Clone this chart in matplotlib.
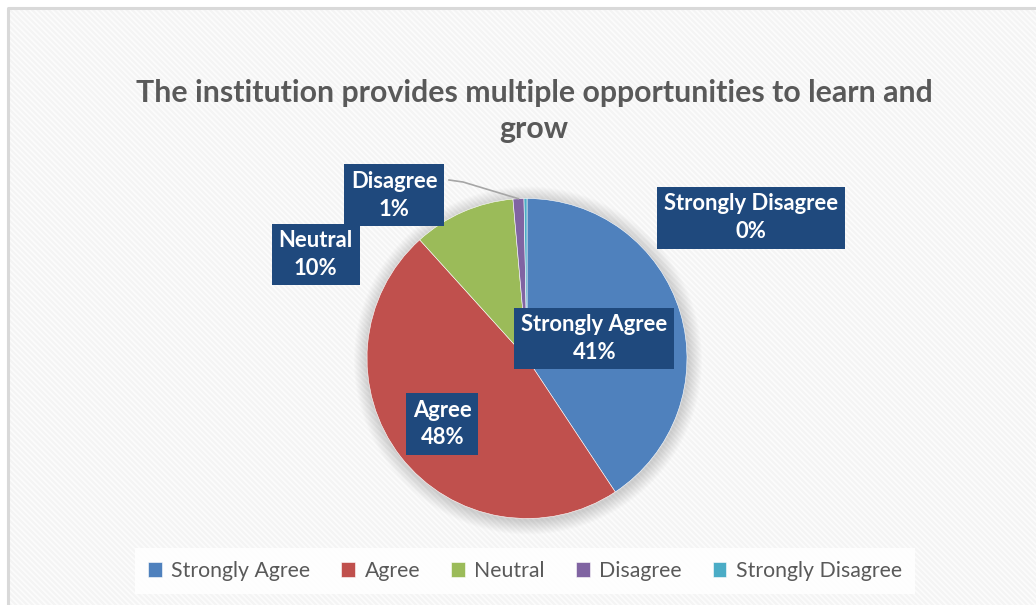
import matplotlib
matplotlib.use("Agg")
import matplotlib.pyplot as plt
import numpy as np
from matplotlib.patches import Rectangle, Circle

# Данные
categories = ["Strongly Agree", "Agree", "Neutral", "Disagree", "Strongly Disagree"]
values = [40.7, 47.6, 10.3, 1.1, 0.3]
colors = ["#4F81BD", "#C0504D", "#9BBB59", "#8064A2", "#4BACC6"]
title = "The institution provides multiple opportunities to learn and\ngrow"

# положения подписей относительно центра круга (в радиусах)
label_pos = [(0.42, 0.125), (-0.53, -0.41), (-1.32, 0.65), (-0.83, 1.02), (1.40, 0.88)]

plt.rcParams['font.family'] = ['Lato', 'DejaVu Sans']
plt.rcParams['hatch.linewidth'] = 1.6

W, H = 1036, 605
fig = plt.figure(figsize=(W / 100, H / 100), dpi=100)
ax = fig.add_axes([0, 0, 1, 1])
ax.set_xlim(0, W)
ax.set_ylim(0, H)
ax.axis('off')

# фон с текстурой и рамкой
ax.add_patch(Rectangle((8, -5), W, H - 8 + 5, facecolor='#fcfcfc', edgecolor='#f4f4f4',
                       hatch='\\\\\\\\\\\\', linewidth=0, zorder=0))
ax.plot([8, 8, W], [0, H - 8, H - 8], color='#d9d9d9', lw=2.2, zorder=1)

cx, cy, r = 527, H - 358.5, 160

# мягкая тень вокруг круга
for k in range(14, 0, -1):
    ax.add_patch(Circle((cx + 1, cy - 2), r + k, facecolor='#000000', alpha=0.011,
                        linewidth=0, zorder=2))

wedges, _ = ax.pie(values, colors=colors, startangle=90, counterclock=False,
                   center=(cx, cy), radius=r, frame=True,
                   wedgeprops=dict(edgecolor='white', linewidth=0.4, zorder=3))
ax.set_xlim(0, W)
ax.set_ylim(0, H)
ax.set_aspect('equal')
ax.axis('off')

total = sum(values)
for i, (cat, val) in enumerate(zip(categories, values)):
    lx, ly = label_pos[i]
    ax.text(cx + lx * r, cy + ly * r, f"{cat}\n{round(val / total * 100):.0f}%",
            ha='center', va='center', color='white', fontsize=15.8, fontweight='bold',
            linespacing=1.4, zorder=6,
            bbox=dict(boxstyle='square,pad=0.3', facecolor='#1F497D', edgecolor='none'))

# линия-выноска для Disagree
cum = np.cumsum(values) / total
mid = (cum[3] + cum[2]) / 2
ang = np.deg2rad(90 - mid * 360)
ex, ey = cx + r * np.cos(ang), cy + r * np.sin(ang)
ax.plot([449, 463, ex], [H - 180, H - 182, ey], color='#a6a6a6', lw=1.2, zorder=5)

fig.text(534 / W, 1 - 111 / H, title, ha='center', va='center', fontsize=21.8,
         fontweight='bold', color='#595959', linespacing=1.35)

leg = fig.legend(wedges, categories, loc='center', bbox_to_anchor=(525 / W, 1 - 571 / H),
                 ncol=5, frameon=True, fontsize=15.3, handlelength=0.65, handleheight=0.65,
                 handletextpad=0.45, columnspacing=1.45, borderpad=0.6, borderaxespad=0,
                 fancybox=False)
leg.get_frame().set_facecolor('white')
leg.get_frame().set_edgecolor('none')
leg.get_frame().set_alpha(0.9)
for t in leg.get_texts():
    t.set_color('#595959')

fig.savefig("out.png", dpi=100)
